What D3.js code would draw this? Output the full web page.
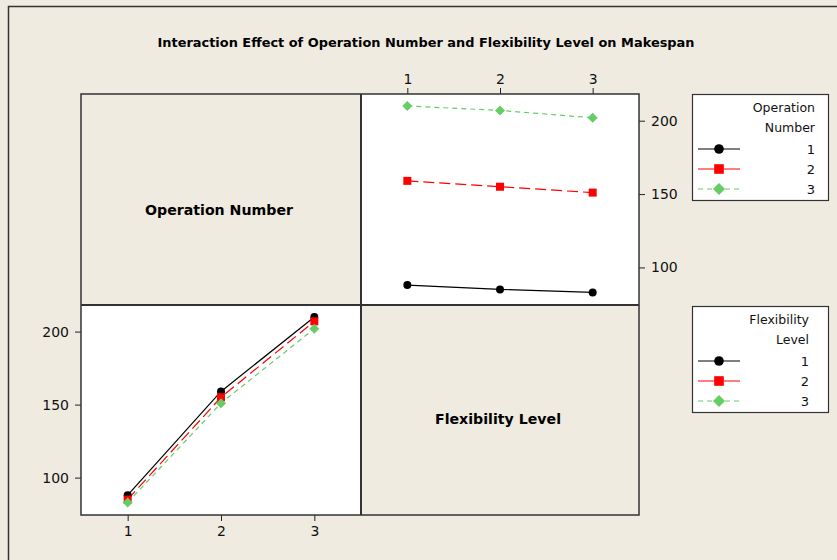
<!DOCTYPE html>
<html>
<head>
<meta charset="utf-8">
<script src="https://cdn.jsdelivr.net/npm/d3@7"></script>
<style>
  html, body { margin: 0; padding: 0; background: #efebe1; }
  svg { display: block; font-family: "DejaVu Sans", sans-serif; }
</style>
</head>
<body>
<div id="chart"></div>
<script>
// cell means of makespan, one array per operation number, indexed by flexibility level
const opLevels = [1, 2, 3]
const flexLevels = [1, 2, 3]
const meansOp1 = [88, 85, 83]
const meansOp2 = [159, 155, 151]
const meansOp3 = [210, 207, 202]
const yTicks = [100, 150, 200]
const seriesNames = ["1", "2", "3"]

const byOp = [meansOp1, meansOp2, meansOp3]
// same table read the other way round: one series per flexibility level
const byFlex = flexLevels.map((f, j) => byOp.map(row => row[j]))

const W = 837, H = 560
const colors = ["#000000", "#ff0000", "#66cc66"]
const dashes = [null, "11,5", "5,4"]

const svg = d3.select("#chart").append("svg")
    .attr("width", W)
    .attr("height", H)

svg.append("rect").attr("width", W).attr("height", H).attr("fill", "#efebe1")
// outer frame (runs off the picture on right and bottom)
svg.append("rect")
    .attr("x", 8.5).attr("y", 6.5)
    .attr("width", 840).attr("height", 570)
    .attr("fill", "none").attr("stroke", "#333").attr("stroke-width", 1.5)

svg.append("text")
    .attr("x", 426).attr("y", 47)
    .attr("text-anchor", "middle")
    .style("font-weight", "bold")
    .style("font-size", "12.5px")
    .attr("textLength", 537)
    .attr("lengthAdjust", "spacingAndGlyphs")
    .text("Interaction Effect of Operation Number and Flexibility Level on Makespan")

const L = 81, M = 361, R = 639
const T = 94, C = 305, B = 515

// panel backgrounds
svg.append("rect").attr("x", M).attr("y", T).attr("width", R - M).attr("height", C - T).attr("fill", "#fff")
svg.append("rect").attr("x", L).attr("y", C).attr("width", M - L).attr("height", B - C).attr("fill", "#fff")

const yDomain = [74.4, 218.2]

// top-right panel: x = flexibility, lines = operation number
const xTR = d3.scaleLinear().domain([0.5, 3.5]).range([M, R])
const yTR = d3.scaleLinear().domain(yDomain).range([C, T])
// bottom-left panel: x = operation number, lines = flexibility
const xBL = d3.scaleLinear().domain([0.5, 3.5]).range([L, M])
const yBL = d3.scaleLinear().domain(yDomain).range([B, C])

function styleAxis(g) {
    g.select(".domain").remove()
    g.selectAll(".tick line").attr("stroke", "#222")
    g.selectAll(".tick text").style("font-size", "14px").attr("fill", "#111")
        .style("font-family", "DejaVu Sans, sans-serif")
}

svg.append("g").attr("transform", `translate(0,${T})`)
    .call(d3.axisTop(xTR).tickValues(flexLevels).tickFormat(d3.format("d")).tickSize(6).tickPadding(4))
    .call(styleAxis)
svg.append("g").attr("transform", `translate(${R},0)`)
    .call(d3.axisRight(yTR).tickValues(yTicks).tickSize(6).tickPadding(6))
    .call(styleAxis)
svg.append("g").attr("transform", `translate(0,${B})`)
    .call(d3.axisBottom(xBL).tickValues(opLevels).tickFormat(d3.format("d")).tickSize(6).tickPadding(5))
    .call(styleAxis)
svg.append("g").attr("transform", `translate(${L},0)`)
    .call(d3.axisLeft(yBL).tickValues(yTicks).tickSize(6).tickPadding(6))
    .call(styleAxis)

function marker(g, i, x, y, s) {
    if (i == 0) {
        g.append("circle").attr("cx", x).attr("cy", y).attr("r", 4 * s).attr("fill", colors[0])
    } else if (i == 1) {
        g.append("rect").attr("x", x - 4 * s).attr("y", y - 4 * s)
            .attr("width", 8 * s).attr("height", 8 * s).attr("fill", colors[1])
    } else {
        const r = 5 * s
        g.append("path").attr("d", `M${x},${y - r}L${x + r},${y}L${x},${y + r}L${x - r},${y}Z`)
            .attr("fill", colors[2])
    }
}

function drawSeries(series, xs, ys, levels) {
    const g = svg.append("g")
    series.forEach((vals, i) => {
        const line = d3.line().x((d, k) => xs(levels[k])).y(d => ys(d))
        g.append("path")
            .attr("d", line(vals))
            .attr("fill", "none")
            .attr("stroke", colors[i])
            .attr("stroke-width", 1.2)
            .attr("stroke-dasharray", dashes[i])
    })
    series.forEach((vals, i) => {
        vals.forEach((v, k) => marker(g, i, xs(levels[k]), ys(v), 1))
    })
}

drawSeries(byOp, xTR, yTR, flexLevels)
drawSeries(byFlex, xBL, yBL, opLevels)

// panel frame lines
const frame = svg.append("g").attr("fill", "none").attr("stroke", "#333")
frame.append("rect").attr("x", L).attr("y", T).attr("width", R - L).attr("height", B - T).attr("stroke-width", 1.5)
frame.append("line").attr("x1", M).attr("x2", M).attr("y1", T).attr("y2", B).attr("stroke-width", 2)
frame.append("line").attr("x1", L).attr("x2", R).attr("y1", C).attr("y2", C).attr("stroke-width", 2)

svg.append("text").attr("x", 219).attr("y", 215).attr("text-anchor", "middle")
    .style("font-weight", "bold").style("font-size", "14px")
    .attr("textLength", 148).attr("lengthAdjust", "spacingAndGlyphs")
    .text("Operation Number")
svg.append("text").attr("x", 498).attr("y", 424).attr("text-anchor", "middle")
    .style("font-weight", "bold").style("font-size", "14px")
    .attr("textLength", 126).attr("lengthAdjust", "spacingAndGlyphs")
    .text("Flexibility Level")

function legend(top, titleLines, textRight) {
    const g = svg.append("g")
    g.append("rect").attr("x", 692.5).attr("y", top + 0.5).attr("width", 136).attr("height", 106)
        .attr("fill", "#fff").attr("stroke", "#333").attr("stroke-width", 1.2)
    titleLines.forEach((t, k) => {
        g.append("text").attr("x", textRight).attr("y", top + 18 + k * 20)
            .attr("text-anchor", "end").style("font-size", "12.5px").attr("fill", "#111").text(t)
    })
    seriesNames.forEach((name, i) => {
        const y = top + 55 + i * 20
        g.append("line").attr("x1", 698).attr("x2", 740).attr("y1", y).attr("y2", y)
            .attr("stroke", colors[i]).attr("stroke-width", 1.2).attr("stroke-dasharray", dashes[i] ? (i == 1 ? "20,0" : "5,4") : null)
        marker(g, i, 719, y, 1.2)
        g.append("text").attr("x", textRight).attr("y", y + 5)
            .attr("text-anchor", "end").style("font-size", "13px").attr("fill", "#111").text(name)
    })
}

legend(94, ["Operation", "Number"], 815)
legend(306, ["Flexibility", "Level"], 809)
</script>
</body>
</html>
